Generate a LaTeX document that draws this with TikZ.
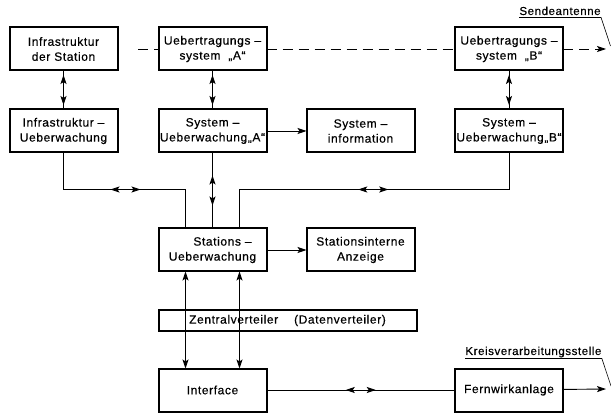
\documentclass[tikz,border=0pt]{standalone}
\usepackage{fontspec}
\setmainfont{Liberation Sans}[LetterSpace=5.0,FakeBold=0.4]
\usetikzlibrary{positioning,arrows.meta,decorations.markings}

\begin{document}
\begin{tikzpicture}[
    x=1pt, y=1pt, line width=0.9pt,
    >={Stealth[length=9pt,width=6pt,inset=2pt]},
    blk/.style={draw, line width=2pt, outer sep=0pt, minimum width=108pt, minimum height=43pt,
        inner xsep=1pt, align=center, font=\fontsize{12}{15}\selectfont},
    lbl/.style={inner sep=0pt, font=\fontsize{11.5}{13}\selectfont},
    twoway/.style={decoration={markings,
        mark=at position 0.5 with {\draw[<->] (-15pt,0) -- (15pt,0);}},
        postaction={decorate}},
    dashline/.style={dash pattern=on 10pt off 6pt},
    node distance=39pt and 40pt
]
\useasboundingbox (0,0) rectangle (611,-414);

% upper rows
\node[blk] (infra) at (63.5,-49) {Infrastruktur\\der Station};
\node[blk, right=41pt of infra] (uebA) {Uebertragungs –\\system \ „A“};
\node[blk, below=of infra] (infraue) {Infrastruktur –\\Ueberwachung};
\node[blk, below=of uebA] (sysA) {System –\\Ueberwachung„A“};
\node[blk, right=of sysA] (info) {System –\\information};
\node[blk, right=40.5pt of info] (sysB) {System –\\Ueberwachung„B“};
\node[blk, above=of sysB] (uebB) {Uebertragungs –\\system \ „B“};

% station
\node[blk, below=76pt of sysA] (stat) {\hspace*{20pt}Stations –\\Ueberwachung};
\node[blk, right=of stat] (anz) {Stationsinterne\\Anzeige};
\node[blk, minimum width=258pt, minimum height=21pt,
      below=38.5pt of stat.south west, anchor=north west] (zv)
      {Zentralverteiler \quad (Datenverteiler)};
\node[blk, below=37.5pt of zv.south west, anchor=north west] (iface) {Interface};
\node[blk, right=188.5pt of iface] (fern) {Fernwirkanlage};

% outside
\node[lbl, anchor=base west] (send) at (519,-15) {Sendeantenne};
\node[lbl, anchor=base west] (kreis) at (465,-355) {Kreisverarbeitungsstelle};
\coordinate (dashL) at (138,-49);
\coordinate (sendtip) at (606,-49);
\coordinate (sendfoot) at (610.5,-46);
\coordinate (kreistip) at (606,-389);
\coordinate (kreisfoot) at (611,-386);

\draw[dashline] (dashL) -- (uebA);
\draw[dashline] (uebA) -- (uebB);
\draw[dashline,->] (uebB) -- (sendtip);
\draw[line width=0.6pt] ([yshift=-2.5pt]send.base west) -- ([yshift=-2.5pt]send.base east) -- (sendfoot);
\draw[line width=0.6pt] ([yshift=-3.5pt]kreis.base west) -- ([yshift=-3.5pt]kreis.base east) -- (kreisfoot);

\draw[twoway] (infra) -- (infraue);
\draw[twoway] (uebA) -- (sysA);
\draw[twoway] (uebB) -- (sysB);
\draw[->] (sysA) -- (info);
\draw[->] (stat) -- (anz);
\draw[twoway] (infraue.south) -- ++(0,-37) -| ([xshift=27pt]stat.north west);
\draw[twoway] (sysA) -- (stat);
\draw[twoway] (sysB.south) -- ++(0,-37) -| ([xshift=-27pt]stat.north east);
\draw[<->] ([xshift=27pt]stat.south west) -- ([xshift=27pt]iface.north west);
\draw[<->] ([xshift=-27pt]stat.south east) -- ([xshift=-27pt]iface.north east);
\draw[twoway] (iface) -- (fern);
\draw[->] (fern) -- (kreistip);

\end{tikzpicture}
\end{document}
